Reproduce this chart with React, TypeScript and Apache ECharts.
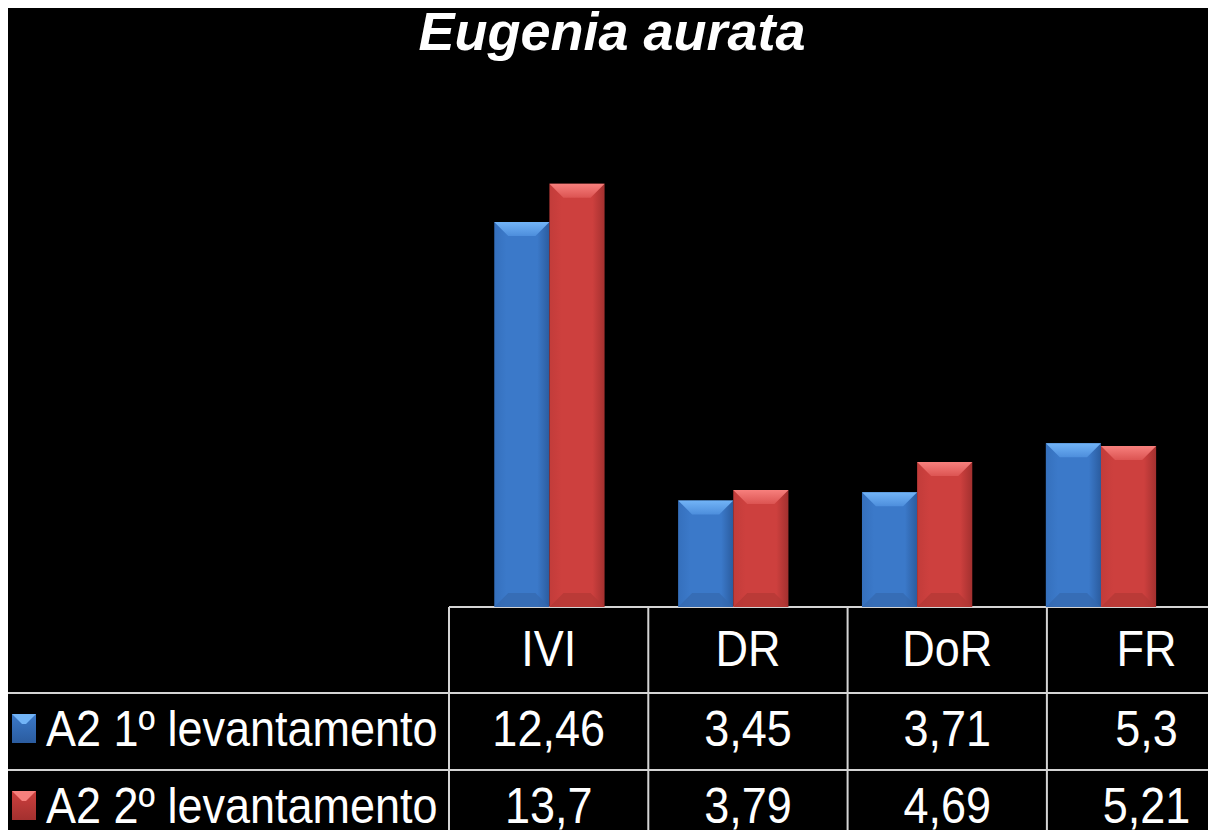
import React, { useEffect, useRef } from "react";
import * as echarts from "echarts";

// ---- data ----
const titleText = "Eugenia aurata";
const categories = ["IVI", "DR", "DoR", "FR"];
const seriesNames = ["A2 1º levantamento", "A2 2º levantamento"];
const levantamento1 = [12.46, 3.45, 3.71, 5.3];
const levantamento2 = [13.7, 3.79, 4.69, 5.21];

// ---- layout / style ----
const W = 1208;
const H = 822;
const GRID_LEFT = 449.5;
const GRID_WIDTH = 735.4;
const BASE_Y = 599;
const Y_MAX = 15;
const PX_PER_UNIT = 30.9;
const GRID_TOP = BASE_Y - Y_MAX * PX_PER_UNIT;

const TABLE_LEFT = 441;
const COL_W = 199.3;
const LINE_TOP = 599;
const LINE_R1 = 685;
const LINE_R2 = 762;
const LINE_R3 = 839;
const HEADER_CY = 641;
const ROW1_CY = 721;
const ROW2_CY = 798;
const LINE_COLOR = "#d4d4d4";
const FONT = "Liberation Sans, Arial, Helvetica, sans-serif";
const TABLE_FONT_SIZE = 50;
const TABLE_SCALE_X = 0.9;

const palettes = [
  {
    body: "#3b79c9",
    edgeL: "#3570bd",
    edgeR: "#2b5c9f",
    topA: "#72b4f7",
    topB: "#4d8edc",
    bottom: "#3468ae",
  },
  {
    body: "#cd403e",
    edgeL: "#c23c3a",
    edgeR: "#a3302f",
    topA: "#f7807d",
    topB: "#dc5452",
    bottom: "#b23735",
  },
];

function fmt(v: number): string {
  return String(v).replace(".", ",");
}

function makeRenderItem(side: number) {
  const pal = palettes[side];
  return (params: any, api: any) => {
    const idx = api.value(0);
    const val = api.value(1);
    const base = api.coord([idx, 0]);
    const top = api.coord([idx, val]);
    const catW = api.size([1, 0])[0];
    const bw = catW * 0.3;
    const x0 = side === 0 ? base[0] - bw : base[0];
    const y0 = top[1];
    const yb = base[1];
    const h = yb - y0;
    const d = Math.min(14, h / 2);
    return {
      type: "group",
      children: [
        {
          type: "rect",
          shape: { x: x0, y: y0, width: bw, height: h },
          style: {
            fill: new echarts.graphic.LinearGradient(0, 0, 1, 0, [
              { offset: 0, color: pal.edgeL },
              { offset: 0.22, color: pal.body },
              { offset: 0.78, color: pal.body },
              { offset: 1, color: pal.edgeR },
            ]),
          },
        },
        {
          type: "polygon",
          shape: {
            points: [
              [x0, y0],
              [x0 + bw, y0],
              [x0 + bw - d, y0 + d],
              [x0 + d, y0 + d],
            ],
          },
          style: {
            fill: new echarts.graphic.LinearGradient(0, 0, 0, 1, [
              { offset: 0, color: pal.topA },
              { offset: 1, color: pal.topB },
            ]),
          },
        },
        {
          type: "polygon",
          shape: {
            points: [
              [x0 + d, yb - d],
              [x0 + bw - d, yb - d],
              [x0 + bw, yb],
              [x0, yb],
            ],
          },
          style: { fill: pal.bottom, opacity: 0.7 },
        },
      ],
    };
  };
}

function tableText(text: string, x: number, y: number, align: string) {
  return {
    type: "text",
    x,
    y,
    scaleX: TABLE_SCALE_X,
    silent: true,
    style: {
      text,
      fill: "#ffffff",
      font: `${TABLE_FONT_SIZE}px ${FONT}`,
      fontSize: TABLE_FONT_SIZE,
      fontFamily: FONT,
      textAlign: align,
      align,
      textVerticalAlign: "middle",
      verticalAlign: "middle",
    },
  };
}

function hLine(x1: number, y: number, x2: number) {
  return {
    type: "line",
    silent: true,
    shape: { x1, y1: y, x2, y2: y },
    style: { stroke: LINE_COLOR, lineWidth: 2 },
  };
}

function vLine(x: number, y1: number, y2: number) {
  return {
    type: "line",
    silent: true,
    shape: { x1: x, y1, x2: x, y2 },
    style: { stroke: LINE_COLOR, lineWidth: 2 },
  };
}

function legendIcon(side: number, x: number, y: number) {
  const pal = palettes[side];
  const w = 24;
  const h = 29;
  const d = 10;
  return {
    type: "group",
    x,
    y,
    silent: true,
    children: [
      {
        type: "rect",
        shape: { x: 0, y: 0, width: w, height: h },
        style: {
          fill: new echarts.graphic.LinearGradient(0, 0, 0, 1, [
            { offset: 0, color: pal.body },
            { offset: 1, color: pal.edgeR },
          ]),
        },
      },
      {
        type: "polygon",
        shape: {
          points: [
            [0, 0],
            [w, 0],
            [w / 2 + 2, d],
            [w / 2 - 2, d],
          ],
        },
        style: { fill: pal.topA },
      },
    ],
  };
}

export default function App() {
  const ref = useRef<HTMLDivElement>(null);

  useEffect(() => {
    if (!ref.current) return;
    const chart = echarts.init(ref.current, undefined, { renderer: "svg" });

    const graphics: any[] = [];
    // title
    graphics.push({
      type: "text",
      x: W / 2,
      y: 23,
      silent: true,
      style: {
        text: titleText,
        fill: "#ffffff",
        font: `italic bold 54px ${FONT}`,
        fontSize: 54,
        fontStyle: "italic",
        fontWeight: "bold",
        fontFamily: FONT,
        textAlign: "center",
        align: "center",
        textVerticalAlign: "middle",
        verticalAlign: "middle",
      },
    });

    // table lines
    const tableRight = TABLE_LEFT + COL_W * categories.length;
    graphics.push(hLine(TABLE_LEFT, LINE_TOP, tableRight));
    graphics.push(hLine(0, LINE_R1, tableRight));
    graphics.push(hLine(0, LINE_R2, tableRight));
    graphics.push(hLine(0, LINE_R3, tableRight));
    for (let i = 0; i <= categories.length; i++) {
      graphics.push(vLine(TABLE_LEFT + i * COL_W, LINE_TOP, H + 40));
    }

    // header + values
    const rows = [levantamento1, levantamento2];
    const rowY = [ROW1_CY, ROW2_CY];
    categories.forEach((c, i) => {
      const cx = TABLE_LEFT + (i + 0.5) * COL_W;
      graphics.push(tableText(c, cx, HEADER_CY, "center"));
      rows.forEach((r, k) => {
        graphics.push(tableText(fmt(r[i]), cx, rowY[k], "center"));
      });
    });

    // row legends
    seriesNames.forEach((name, k) => {
      graphics.push(legendIcon(k, 4, rowY[k] - 15));
      graphics.push(tableText(name, 38, rowY[k], "left"));
    });

    chart.setOption({
      animation: false,
      backgroundColor: "#000000",
      grid: {
        left: GRID_LEFT,
        top: GRID_TOP,
        width: GRID_WIDTH,
        height: BASE_Y - GRID_TOP,
        containLabel: false,
      },
      xAxis: {
        type: "category",
        data: categories,
        boundaryGap: true,
        show: false,
      },
      yAxis: {
        type: "value",
        min: 0,
        max: Y_MAX,
        show: false,
        splitLine: { show: false },
      },
      series: [
        {
          name: seriesNames[0],
          type: "custom",
          renderItem: makeRenderItem(0),
          encode: { x: 0, y: 1 },
          data: levantamento1.map((v, i) => [i, v]),
        },
        {
          name: seriesNames[1],
          type: "custom",
          renderItem: makeRenderItem(1),
          encode: { x: 0, y: 1 },
          data: levantamento2.map((v, i) => [i, v]),
        },
      ],
      graphic: { elements: graphics },
    });

    return () => {
      chart.dispose();
    };
  }, []);

  return <div ref={ref} style={{ width: W, height: H, background: "#000" }} />;
}
